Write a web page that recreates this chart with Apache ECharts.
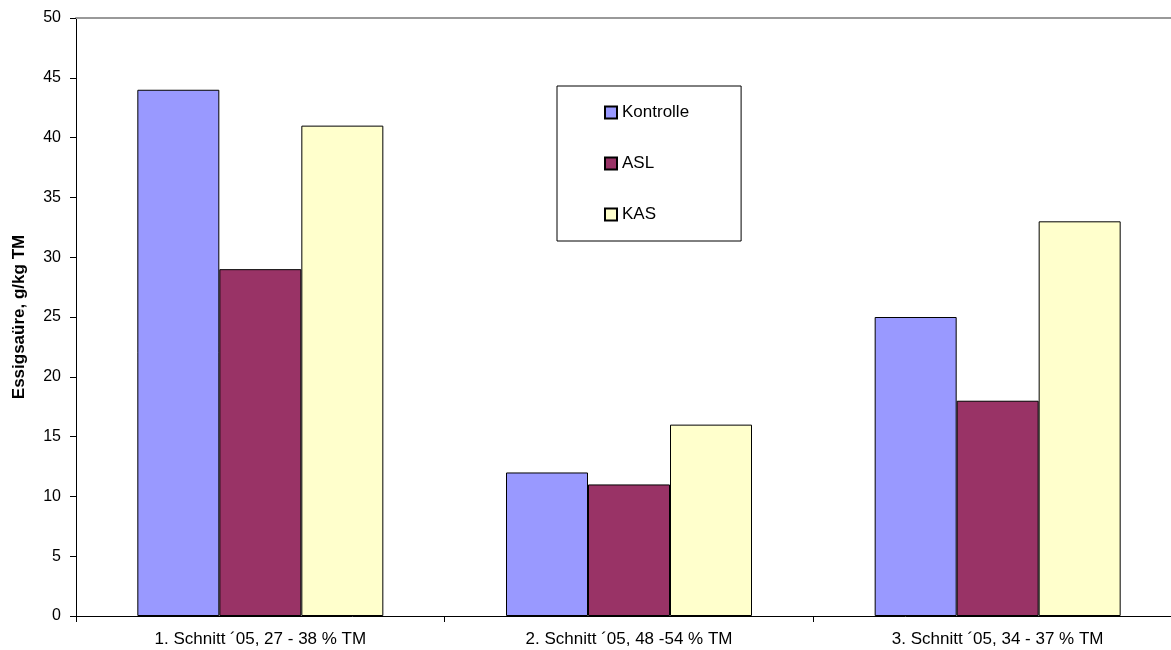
<!DOCTYPE html>
<html>
<head>
<meta charset="utf-8">
<script src="https://cdn.jsdelivr.net/npm/echarts@6/dist/echarts.min.js"></script>
<style>html,body{margin:0;padding:0;background:#fff;overflow:hidden;}#c{width:1182px;height:650px;}</style>
</head>
<body>
<div id="c"></div>
<script>
var categories = ['1. Schnitt \u00b405, 27 - 38 % TM', '2. Schnitt \u00b405, 48 -54 % TM', '3. Schnitt \u00b405, 34 - 37 % TM'];
var seriesNames = ['Kontrolle', 'ASL', 'KAS'];
var kontrolle = [44, 12, 25];
var asl = [29, 11, 18];
var kas = [41, 16, 33];
var yTicks = [0, 5, 10, 15, 20, 25, 30, 35, 40, 45, 50];

var colors = ['#9999FF', '#993366', '#FFFFCC'];
var dataSets = [kontrolle, asl, kas];
var font = 'Arial, "Liberation Sans", sans-serif';

var chart = echarts.init(document.getElementById('c'));
chart.setOption({
  animation: false,
  backgroundColor: '#fff',
  grid: { left: 76, top: 18, width: 1106, height: 598, containLabel: false, outerBoundsMode: 'none' },
  legend: {
    orient: 'vertical',
    left: 557, top: 86,
    data: seriesNames,
    icon: 'rect',
    itemWidth: 12, itemHeight: 12,
    itemGap: 34,
    padding: [18, 52, 18, 47],
    borderColor: '#000', borderWidth: 1,
    backgroundColor: '#fff',
    textStyle: { fontFamily: font, fontSize: 17, color: '#000' }
  },
  xAxis: [{
    type: 'category',
    data: categories,
    axisLine: { lineStyle: { color: '#000', width: 1 } },
    axisTick: { show: true, alignWithLabel: false, length: 6, lineStyle: { color: '#000' } },
    axisLabel: { fontFamily: font, fontSize: 17, color: '#000', margin: 15, interval: 0 },
    splitLine: { show: false }
  }, {
    type: 'category',
    position: 'top',
    data: categories,
    axisLine: { lineStyle: { color: '#999', width: 2 } },
    axisTick: { show: false },
    axisLabel: { show: false }
  }],
  yAxis: {
    type: 'value',
    min: 0, max: 50, interval: 5,
    name: 'Essigsa\u00fcre, g/kg TM',
    nameLocation: 'middle',
    nameGap: 48,
    nameTextStyle: { fontFamily: font, fontSize: 17, fontWeight: 'bold', color: '#000' },
    axisLine: { show: true, lineStyle: { color: '#000', width: 1 } },
    axisTick: { show: true, length: 6, lineStyle: { color: '#000' } },
    axisLabel: { fontFamily: font, fontSize: 16, color: '#000', margin: 15,
      formatter: function (v) { return yTicks.indexOf(v) >= 0 ? String(v) : ''; } },
    splitLine: { show: false }
  },
  series: seriesNames.map(function (n, i) {
    return {
      name: n,
      type: 'bar',
      data: dataSets[i],
      barWidth: 82,
      barGap: '0%',
      itemStyle: { color: colors[i], borderColor: '#000', borderWidth: 1 }
    };
  })
});
</script>
</body>
</html>
